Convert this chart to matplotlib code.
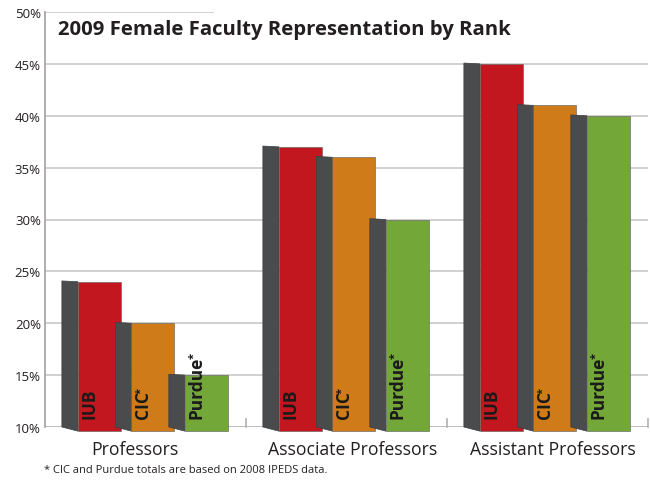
import numpy as np
import matplotlib
matplotlib.use('Agg')
import matplotlib.pyplot as plt
from matplotlib.patches import Polygon

plt.rcParams['font.family'] = ['Open Sans', 'DejaVu Sans']

# Données (%)
ranks = ['Professors', 'Associate Professors', 'Assistant Professors']
schools = ['IUB', 'CIC', 'Purdue']
iub = [24, 37, 45]
cic = [20, 36, 41]
purdue = [15, 30, 40]
bar_labels = ['IUB', 'CIC', 'Purdue']
starred = [False, True, True]
yticks = [10, 15, 20, 25, 30, 35, 40, 45, 50]

colors = ['#C3171F', '#CF7B19', '#73A737']
side_color = '#4A4B4D'
text_color = '#231F20'

fig = plt.figure(figsize=(6.5, 4.81), dpi=100)
ax = fig.add_axes([45/650, 53/481, 603/650, 415/481])
ax.set_xlim(0, 3)
ax.set_ylim(10, 50)

# Grille horizontale
for y in yticks[1:-1]:
    ax.axhline(y, color='#C8C8C8', lw=1.2, zorder=0)
ax.axhline(50, xmax=168/603, color='#C8C8C8', lw=1.2, zorder=0)
ax.axhline(10, color='#B0B0B0', lw=1.2, zorder=0)
# petits traits de séparation entre catégories
for xs in [1, 2, 3]:
    ax.plot([xs, xs], [10, 10.8], color='#B0B0B0', lw=1.2, zorder=0, clip_on=False)

first = 0.164   # bord gauche de la face avant du 1er bar
pitch = 0.266
width = 0.214
depth = 0.08
bottom = 9.6

fig.canvas.draw()
renderer = fig.canvas.get_renderer()

series = [iub, cic, purdue]
for j, vals in enumerate(series):
    for i, v in enumerate(vals):
        x0 = i + first + j * pitch
        side = Polygon([(x0 - depth, 10.0), (x0, bottom), (x0, v), (x0 - depth, v + 0.08)],
                       closed=True, facecolor=side_color, edgecolor='#3C3D3F',
                       lw=0.5, zorder=2 + 2 * j, clip_on=False)
        ax.add_patch(side)
        ax.bar(x0, v - bottom, bottom=bottom, width=width, align='edge',
               color=colors[j], edgecolor='#5A5A5A', lw=0.4,
               zorder=3 + 2 * j, clip_on=False)
        t = ax.text(x0 + 0.056, 10.9, bar_labels[j], rotation=90, ha='center', va='bottom',
                    fontsize=12.5, fontweight='bold', color='#1A1A1A', zorder=10)
        if starred[j]:
            # astérisque en exposant, collé au texte
            bb = t.get_window_extent(renderer).transformed(ax.transData.inverted())
            ax.text(x0 + 0.047, bb.y1 - 0.3, '*', rotation=90, ha='center', va='bottom',
                    fontsize=8, fontweight='bold', color='#1A1A1A', zorder=10)

for s in ['top', 'right', 'bottom']:
    ax.spines[s].set_visible(False)
ax.spines['left'].set_color('#A0A0A0')
ax.spines['left'].set_linewidth(1.2)

ax.set_yticks(yticks)
ax.set_yticklabels(['{}%'.format(y) for y in yticks], fontsize=9.5, color=text_color)
ax.tick_params(axis='y', length=0, pad=3)
ax.set_xticks([])

label_x = [0.448, 1.53, 2.527]
for lx, r in zip(label_x, ranks):
    ax.text(lx, 7.9, r, ha='center', va='center', fontsize=12.7,
            color=text_color, clip_on=False)

fig.text(58/650, 1 - 30/481, '2009 Female Faculty Representation by Rank',
         ha='left', va='center', fontsize=14.6, fontweight='bold', color=text_color)
fig.text(44/650, 1 - 471/481, '* CIC and Purdue totals are based on 2008 IPEDS data.',
         ha='left', va='center', fontsize=8.0, color=text_color)

fig.savefig('out.png', dpi=100)
